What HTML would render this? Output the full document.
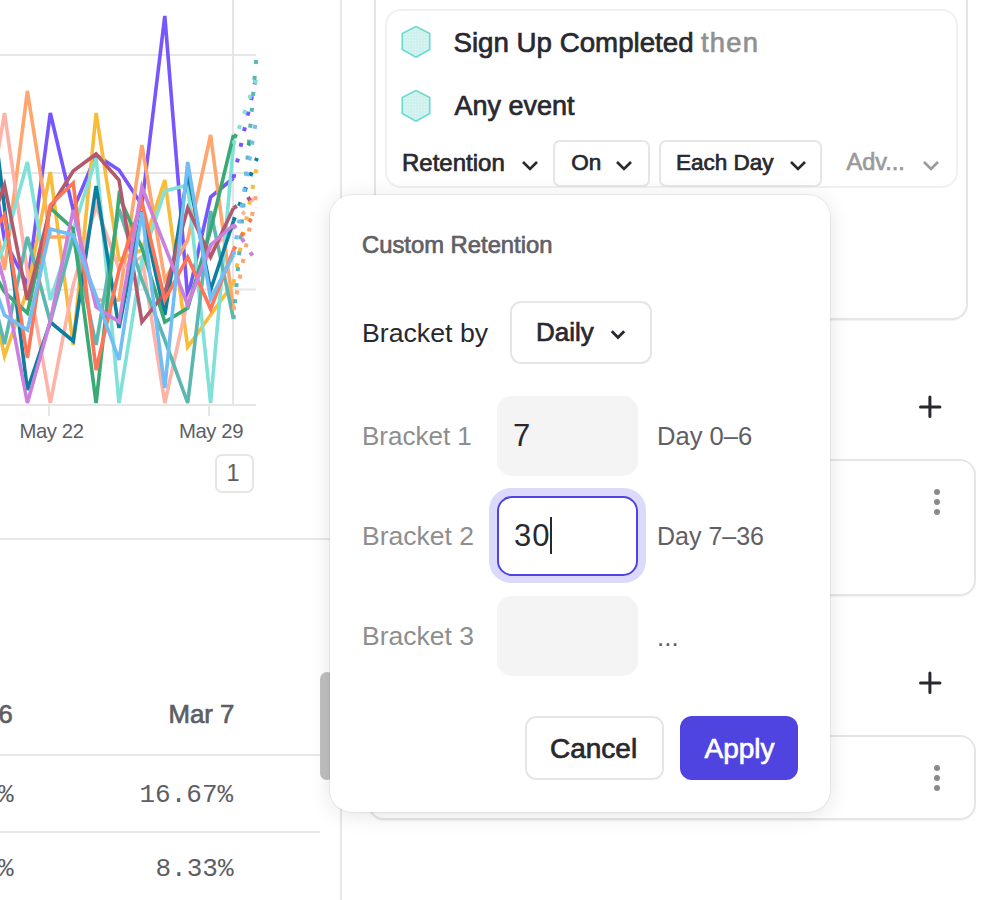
<!DOCTYPE html>
<html><head><meta charset="utf-8">
<style>
html,body{margin:0;padding:0;background:#fff;width:982px;height:900px;overflow:hidden;position:relative;font-family:"Liberation Sans",sans-serif;color:#28282f}
.a{position:absolute;white-space:pre;line-height:1}
.hl{position:absolute;height:2px;background:#e8e8e8}
.vl{position:absolute;width:2px;background:#e8e8e8}
.card{position:absolute;border:2px solid #e6e6e6;border-radius:16px;background:#fff;box-sizing:border-box;box-shadow:0 1px 1px rgba(0,0,0,0.05)}
.btn{position:absolute;border:2px solid #e6e6e6;border-radius:10px;box-sizing:border-box;background:#fff}
.mono{font-family:"Liberation Mono",monospace}
.m{font-weight:400;-webkit-text-stroke-width:0.7px}
</style></head><body>

<!-- LEFT: chart -->
<svg class="a" style="left:0;top:0" width="340" height="540" viewBox="0 0 340 540">
  <g stroke="#e6e6e6" stroke-width="2" fill="none">
    <line x1="0" y1="55" x2="256" y2="55"/>
    <line x1="0" y1="173" x2="256" y2="173"/>
    <line x1="0" y1="289.5" x2="256" y2="289.5"/>
    <line x1="0" y1="405" x2="256" y2="405"/>
    <line x1="233" y1="0" x2="233" y2="405"/>
    <line x1="49" y1="405" x2="49" y2="416"/>
    <line x1="209" y1="405" x2="209" y2="416"/>
  </g>
  <g id="lines" fill="none" stroke-width="3.6" stroke-linejoin="miter" stroke-linecap="butt">
<polyline stroke="#7856ff" points="-18.4,100 4.5,240 27.4,285 50.3,113 73.2,210 96.1,155 119.0,170 141.9,205 164.8,16 187.7,298 210.6,197 233.5,178"/>
<polyline stroke="#ffa66e" points="-18.4,150 4.5,270 27.4,91 50.3,237 73.2,237 96.1,300 119.0,300 141.9,145 164.8,280 187.7,240 210.6,135 233.5,310"/>
<polyline stroke="#f8bc3b" points="-18.4,250 4.5,356 27.4,290 50.3,172 73.2,345 96.1,113 119.0,260 141.9,250 164.8,180 187.7,347 210.6,315 233.5,283"/>
<polyline stroke="#feb3a8" points="-18.4,250 4.5,113 27.4,272 50.3,403 73.2,285 96.1,206 119.0,269 141.9,257 164.8,403 187.7,300 210.6,250 233.5,228"/>
<polyline stroke="#80e1d9" points="-18.4,300 4.5,245 27.4,162 50.3,300 73.2,230 96.1,158 119.0,403 141.9,260 164.8,191 187.7,185 210.6,403 233.5,144"/>
<polyline stroke="#5bb7af" points="-18.4,250 4.5,344 27.4,237 50.3,322 73.2,237 96.1,345 119.0,209 141.9,280 164.8,340 187.7,403 210.6,211 233.5,319"/>
<polyline stroke="#0d7ea0" points="-18.4,20 4.5,208 27.4,390 50.3,322 73.2,341 96.1,186 119.0,328 141.9,211 164.8,315 187.7,173 210.6,290 233.5,221"/>
<polyline stroke="#3ba974" points="-18.4,250 4.5,292 27.4,313 50.3,208 73.2,229 96.1,403 119.0,196 141.9,248 164.8,322 187.7,308 210.6,230 233.5,135"/>
<polyline stroke="#b2596e" points="-18.4,250 4.5,185 27.4,300 50.3,208 73.2,171 96.1,154 119.0,180 141.9,322 164.8,293 187.7,208 210.6,257 233.5,208"/>
<polyline stroke="#ff7557" points="-18.4,250 4.5,215 27.4,358 50.3,205 73.2,183 96.1,370 119.0,270 141.9,202 164.8,300 187.7,257 210.6,309 233.5,250"/>
<polyline stroke="#ca80dc" points="-18.4,200 4.5,283 27.4,403 50.3,321 73.2,210 96.1,307 119.0,322 141.9,187 164.8,246 187.7,305 210.6,245 233.5,225"/>
<polyline stroke="#72bef4" points="-18.4,250 4.5,315 27.4,330 50.3,229 73.2,235 96.1,296 119.0,360 141.9,212 164.8,388 187.7,162 210.6,299 233.5,255"/>
<line stroke="#7856ff" stroke-width="4" stroke-dasharray="4 12" x1="233.5" y1="178" x2="257" y2="74"/>
<line stroke="#ffa66e" stroke-width="4" stroke-dasharray="4 12" x1="233.5" y1="310" x2="257" y2="190"/>
<line stroke="#f8bc3b" stroke-width="4" stroke-dasharray="4 12" x1="233.5" y1="283" x2="257" y2="166"/>
<line stroke="#feb3a8" stroke-width="4" stroke-dasharray="4 12" x1="233.5" y1="228" x2="257" y2="193"/>
<line stroke="#80e1d9" stroke-width="4" stroke-dasharray="4 12" x1="233.5" y1="144" x2="257" y2="77"/>
<line stroke="#5bb7af" stroke-width="4" stroke-dasharray="4 12" x1="233.5" y1="319" x2="257" y2="50"/>
<line stroke="#0d7ea0" stroke-width="4" stroke-dasharray="4 12" x1="233.5" y1="221" x2="257" y2="158"/>
<line stroke="#3ba974" stroke-width="4" stroke-dasharray="4 12" x1="233.5" y1="135" x2="257" y2="148"/>
<line stroke="#b2596e" stroke-width="4" stroke-dasharray="4 12" x1="233.5" y1="208" x2="257" y2="194"/>
<line stroke="#ff7557" stroke-width="4" stroke-dasharray="4 12" x1="233.5" y1="250" x2="257" y2="208"/>
<line stroke="#ca80dc" stroke-width="4" stroke-dasharray="4 12" x1="233.5" y1="225" x2="257" y2="263"/>
<line stroke="#72bef4" stroke-width="4" stroke-dasharray="4 12" x1="233.5" y1="255" x2="257" y2="115"/>
</g>
</svg>
<div class="a" style="left:19.5px;top:420.5px;font-size:20.3px;letter-spacing:-0.4px;color:#5d5e64">May 22</div>
<div class="a" style="left:179px;top:420.5px;font-size:20.3px;letter-spacing:-0.4px;color:#5d5e64">May 29</div>
<div class="btn" style="left:214.5px;top:454.3px;width:39.5px;height:38.8px;border-radius:7px"></div>
<div class="a" style="left:226.5px;top:462.4px;font-size:23.5px;color:#5d5e64">1</div>

<div class="hl" style="left:0;top:538px;width:341px"></div>
<div class="a m" style="left:-1.5px;top:701.9px;font-size:25.5px;color:#5d5e64">6</div>
<div class="a m" style="left:168.5px;top:701.6px;font-size:25.8px;color:#5d5e64">Mar 7</div>
<div class="hl" style="left:0;top:754px;width:320px"></div>
<div class="a mono" style="left:-2px;top:782px;font-size:26px;color:#5d5e64">%</div>
<div class="a mono" style="left:139.5px;top:782px;font-size:26px;color:#5d5e64">16.67%</div>
<div class="hl" style="left:0;top:831px;width:320px"></div>
<div class="a mono" style="left:-2px;top:856px;font-size:26px;color:#5d5e64">%</div>
<div class="a mono" style="left:155.5px;top:856px;font-size:26px;color:#5d5e64">8.33%</div>
<div class="a" style="left:320px;top:672px;width:14px;height:108px;border-radius:7px;background:#c0c0c0"></div>

<div class="vl" style="left:340px;top:0;height:900px"></div>

<!-- RIGHT panel -->
<div class="card" style="left:374px;top:-40px;width:594px;height:360px"></div>
<div class="card" style="left:385px;top:8.5px;width:573px;height:179.5px;border-color:#f0f0f0;border-radius:16px;box-shadow:none"></div>

<svg class="a" style="left:399px;top:24px" width="34" height="38" viewBox="0 0 34 38">
  <defs><pattern id="dots" width="3" height="3" patternUnits="userSpaceOnUse"><rect width="3" height="3" fill="#cef1ee"/><circle cx="1.5" cy="1.5" r="0.55" fill="#e8f9f7"/></pattern></defs>
  <polygon points="17,2.6 30.7,9.6 30.7,25.5 17,33.2 3.3,25.5 3.3,9.6" fill="url(#dots)" stroke="#6edbd1" stroke-width="1.7" stroke-linejoin="round"/>
</svg>
<svg class="a" style="left:399px;top:88px" width="34" height="38" viewBox="0 0 34 38">
  <polygon points="17,2.6 30.7,9.6 30.7,25.5 17,33.2 3.3,25.5 3.3,9.6" fill="url(#dots)" stroke="#6edbd1" stroke-width="1.7" stroke-linejoin="round"/>
</svg>
<div class="a m" style="left:453.5px;top:28.6px;font-size:27.7px">Sign Up Completed</div>
<div class="a m" style="left:701px;top:28.8px;font-size:27.4px;letter-spacing:1.2px;color:#909090">then</div>
<div class="a m" style="left:454.5px;top:92.9px;font-size:27px">Any event</div>

<div class="a m" style="left:402px;top:150.7px;font-size:24px">Retention</div>
<svg class="a" style="left:519.5px;top:158.5px" width="20" height="14"><polyline points="3,3 10,10 17,3" fill="none" stroke="#28282f" stroke-width="2.6"/></svg>
<div class="btn" style="left:553px;top:140px;width:97px;height:47px;border-radius:7px"></div>
<div class="a m" style="left:571.3px;top:151.5px;font-size:22.5px">On</div>
<svg class="a" style="left:613.7px;top:158.5px" width="20" height="14"><polyline points="3,3 10,10 17,3" fill="none" stroke="#28282f" stroke-width="2.6"/></svg>
<div class="btn" style="left:659px;top:140px;width:163px;height:47px;border-radius:7px"></div>
<div class="a m" style="left:676px;top:151.5px;font-size:22.5px">Each Day</div>
<svg class="a" style="left:787.5px;top:158.5px" width="20" height="14"><polyline points="3,3 10,10 17,3" fill="none" stroke="#28282f" stroke-width="2.6"/></svg>
<div class="a m" style="left:846.5px;top:151.1px;font-size:23.5px;color:#9a9a9a">Adv...</div>
<svg class="a" style="left:921px;top:158.5px" width="20" height="14"><polyline points="3,3 10,10 17,3" fill="none" stroke="#9a9a9a" stroke-width="2.6"/></svg>

<!-- plus & cards -->
<svg class="a" style="left:916px;top:393px" width="28" height="28"><path d="M4.5 14H23.9M13.9 3.9V23.6" stroke="#28282f" stroke-width="3" stroke-linecap="round"/></svg>
<div class="card" style="left:368px;top:459px;width:608px;height:137px"></div>
<svg class="a" style="left:930px;top:486px" width="14" height="32"><circle cx="7" cy="6" r="3" fill="#8a8a8a"/><circle cx="7" cy="16" r="3" fill="#8a8a8a"/><circle cx="7" cy="26" r="3" fill="#8a8a8a"/></svg>
<svg class="a" style="left:916px;top:669px" width="28" height="28"><path d="M4.5 14H23.9M13.9 3.9V23.6" stroke="#28282f" stroke-width="3" stroke-linecap="round"/></svg>
<div class="card" style="left:368px;top:735px;width:608px;height:85px"></div>
<svg class="a" style="left:930px;top:762px" width="14" height="32"><circle cx="7" cy="6" r="3" fill="#8a8a8a"/><circle cx="7" cy="16" r="3" fill="#8a8a8a"/><circle cx="7" cy="26" r="3" fill="#8a8a8a"/></svg>

<!-- POPUP -->
<div class="a" style="left:330px;top:195px;width:500px;height:617px;background:#fff;border-radius:22px;box-shadow:0 0 0 1px rgba(0,0,0,0.055),0 3px 22px rgba(0,0,0,0.11)"></div>
<div class="a m" style="left:362px;top:232.8px;font-size:23.8px;color:#5f6066">Custom Retention</div>
<div class="a" style="left:362px;top:320.2px;font-size:26.7px;color:#28282f">Bracket by</div>
<div class="btn" style="left:510px;top:300.5px;width:141.5px;height:63px;border-radius:11px"></div>
<div class="a m" style="left:536px;top:319.3px;font-size:26px">Daily</div>
<svg class="a" style="left:607px;top:326px" width="22" height="16"><polyline points="4.8,5.2 11,11.4 17.2,5.2" fill="none" stroke="#28282f" stroke-width="2.8"/></svg>

<div class="a" style="left:362px;top:423px;font-size:26px;color:#8e8e8e">Bracket 1</div>
<div class="a" style="left:497px;top:396px;width:141px;height:80px;border-radius:15px;background:#f4f4f4"></div>
<div class="a" style="left:513px;top:420.4px;font-size:31px;color:#28282f">7</div>
<div class="a" style="left:657px;top:424px;font-size:25.6px;color:#5f6066">Day 0–6</div>

<div class="a" style="left:362px;top:522.8px;font-size:26.5px;color:#8e8e8e">Bracket 2</div>
<div class="a" style="left:489px;top:488px;width:157px;height:95px;border-radius:22px;background:#dcdafa"></div>
<div class="a" style="left:497px;top:496px;width:141px;height:80px;border-radius:15px;background:#fff;border:2px solid #4f44e0;box-sizing:border-box"></div>
<div class="a" style="left:514px;top:520.3px;font-size:31px;letter-spacing:1px;color:#28282f">30</div>
<div class="a" style="left:550px;top:517px;width:2px;height:37px;background:#28282f"></div>
<div class="a" style="left:657px;top:524px;font-size:25px;color:#5f6066">Day 7–36</div>

<div class="a" style="left:362px;top:622.5px;font-size:26.5px;color:#8e8e8e">Bracket 3</div>
<div class="a" style="left:497px;top:596px;width:141px;height:80px;border-radius:15px;background:#f4f4f4"></div>
<div class="a" style="left:657px;top:624px;font-size:26px;color:#5f6066">...</div>

<div class="btn" style="left:525.3px;top:716px;width:138.5px;height:64px;border-radius:11px"></div>
<div class="a m" style="left:550px;top:734.6px;font-size:28px">Cancel</div>
<div class="a" style="left:680px;top:716px;width:118px;height:64px;border-radius:12px;background:#4f44e0"></div>
<div class="a m" style="left:704.5px;top:734.6px;font-size:28px;color:#fff">Apply</div>

</body></html>
